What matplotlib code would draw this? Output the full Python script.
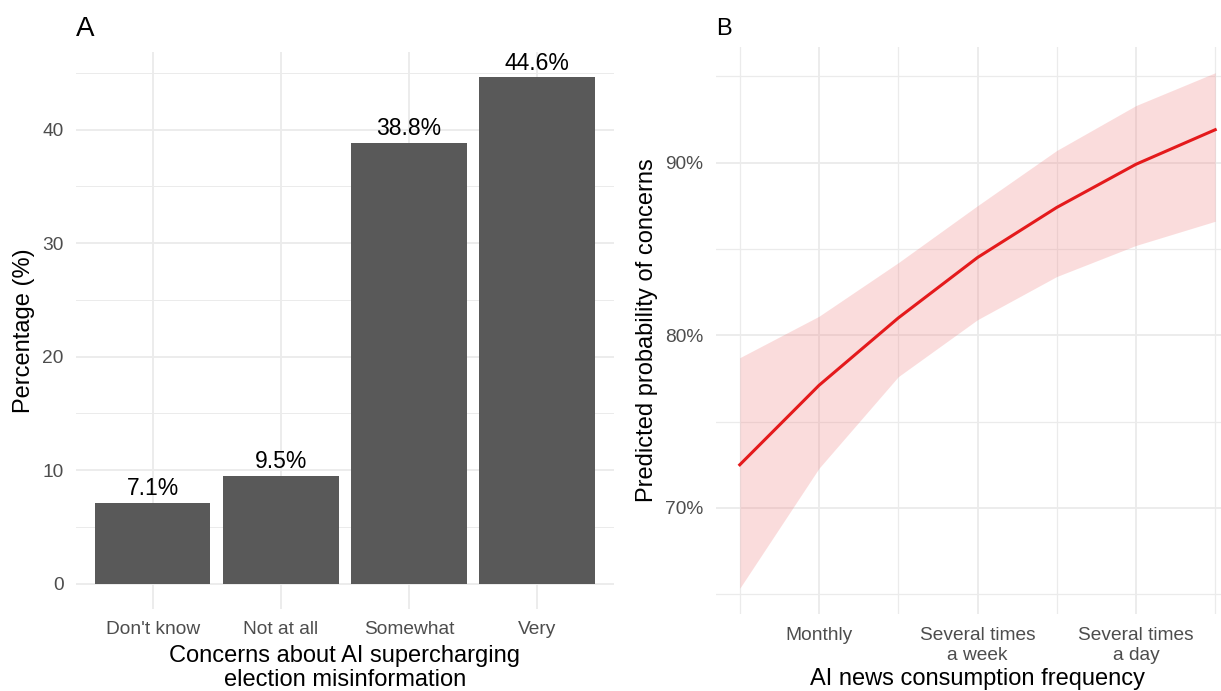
import matplotlib
matplotlib.use("Agg")
import matplotlib.pyplot as plt

plt.rcParams['font.family'] = ['Liberation Sans', 'DejaVu Sans']

# panel A data
concern_levels = ["Don't know", "Not at all", "Somewhat", "Very"]
concern_pct = [7.1, 9.5, 38.8, 44.6]

# panel B data (predicted probabilities, %)
freq_pos = [1, 2, 3, 4, 5, 6, 7]
freq_ticks = [2, 4, 6]
freq_labels = ["Monthly", "Several times\na week", "Several times\na day"]
pred = [72.5, 77.1, 81.0, 84.5, 87.4, 89.9, 91.9]
pred_lo = [65.35, 72.3, 77.6, 80.9, 83.4, 85.2, 86.6]
pred_hi = [78.7, 81.1, 84.2, 87.5, 90.7, 93.3, 95.2]

W, H = 1221, 691
fig = plt.figure(figsize=(W / 100, H / 100), dpi=100)


def px(l, t, r, b):
    return [l / W, 1 - b / H, (r - l) / W, (b - t) / H]


grid = '#EBEBEB'
tick_col = '#4D4D4D'

# ---- panel A
axA = fig.add_axes(px(76, 52, 614, 609))
xs = range(len(concern_levels))
axA.bar(xs, concern_pct, width=0.9, color='#595959', zorder=2)
for x, v in zip(xs, concern_pct):
    axA.annotate('%.1f%%' % v, (x, v), xytext=(0, 2), textcoords='offset points',
                 ha='center', va='bottom', fontsize=16.5, color='black')
axA.set_xlim(-0.6, 3.6)
axA.set_ylim(-2.23, 46.83)
axA.set_yticks([0, 10, 20, 30, 40])
axA.set_yticks([5, 15, 25, 35, 45], minor=True)
axA.set_xticks(list(xs))
axA.set_xticklabels(concern_levels)
axA.set_ylabel('Percentage (%)', fontsize=17, labelpad=5)
axA.set_xlabel('Concerns about AI supercharging\nelection misinformation',
               fontsize=17, labelpad=5, linespacing=1.1)
axA.grid(True, which='major', color=grid, lw=1.3, zorder=0)
axA.grid(True, which='minor', axis='y', color=grid, lw=0.7, zorder=0)
axA.text(0, 1.018, 'A', transform=axA.transAxes, fontsize=20, ha='left', va='bottom')

# ---- panel B
axB = fig.add_axes(px(716, 47, 1239, 614))
axB.fill_between(freq_pos, pred_lo, pred_hi, color='#F08080', alpha=0.27, lw=0, zorder=2)
axB.plot(freq_pos, pred, color='#E41A1C', lw=2.2, zorder=3)
axB.set_xlim(0.7, 7.3)
axB.set_ylim(63.86, 96.69)
axB.set_xticks(freq_ticks)
axB.set_xticklabels(freq_labels, linespacing=1.25)
axB.set_xticks([1, 3, 5, 7], minor=True)
axB.set_yticks([70, 80, 90])
axB.set_yticklabels(['70%', '80%', '90%'])
axB.set_yticks([65, 75, 85, 95], minor=True)
axB.set_ylabel('Predicted probability of concerns', fontsize=17, labelpad=5)
axB.set_xlabel('AI news consumption frequency', fontsize=17, labelpad=3)
axB.grid(True, which='major', color=grid, lw=1.3, zorder=0)
axB.grid(True, which='minor', color=grid, lw=0.9, zorder=0)
axB.text(0, 1.012, 'B', transform=axB.transAxes, fontsize=17, ha='left', va='bottom')

for ax in (axA, axB):
    for s in ax.spines.values():
        s.set_visible(False)
    ax.tick_params(which='both', length=0, labelsize=13.8, labelcolor=tick_col, pad=9)

fig.savefig('out.png', dpi=100)
